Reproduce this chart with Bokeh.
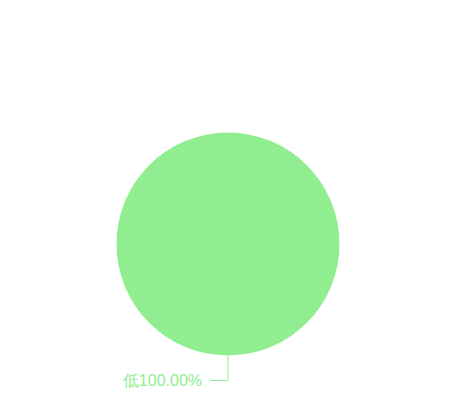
import math
from bokeh.plotting import figure
from bokeh.models import Range1d
from bokeh.core.properties import value
from bokeh.embed import file_html
from bokeh.resources import INLINE

categories = ["低"]
values = [100.0]
colors = ["#90EE90"]

W, H = 455, 405
cx, cy = 227.5, 405 - 243.5
R = 111.5

p = figure(width=W, height=H, output_backend="svg", toolbar_location=None,
           x_range=Range1d(0, W), y_range=Range1d(0, H), min_border=0)
p.axis.visible = False
p.grid.visible = False
p.outline_line_color = None
p.background_fill_color = "white"
p.border_fill_color = "white"

total = sum(values)
start = math.pi / 2
for cat, v, c in zip(categories, values, colors):
    sweep = 2 * math.pi * v / total
    end = start - sweep
    if v >= total:
        p.scatter([cx], [cy], size=2 * R, fill_color=c, line_color=None, marker="circle")
    else:
        p.wedge(x=[cx], y=[cy], radius=R, start_angle=end, end_angle=start,
                fill_color=c, line_color="white")
    mid = (start + end) / 2
    ox, oy = cx + R * math.cos(mid), cy + R * math.sin(mid)
    ex, ey = ox + 25 * math.cos(mid), oy + 25 * math.sin(mid)
    side = -1 if math.cos(mid) <= 1e-9 else 1
    hx = ex + side * 18
    p.line([ox, ex, hx], [oy, ey, ey], line_color=c, line_width=1)
    pct = v / total * 100
    p.text(x=[hx + side * 8], y=[ey], text=[f"{cat}{pct:.2f}%"],
           text_align="right" if side < 0 else "left", text_baseline="middle",
           text_font=value("Liberation Sans"), text_font_size="16px", text_color=c)
    start = end

open("out.html", "w").write(file_html(p, INLINE))
